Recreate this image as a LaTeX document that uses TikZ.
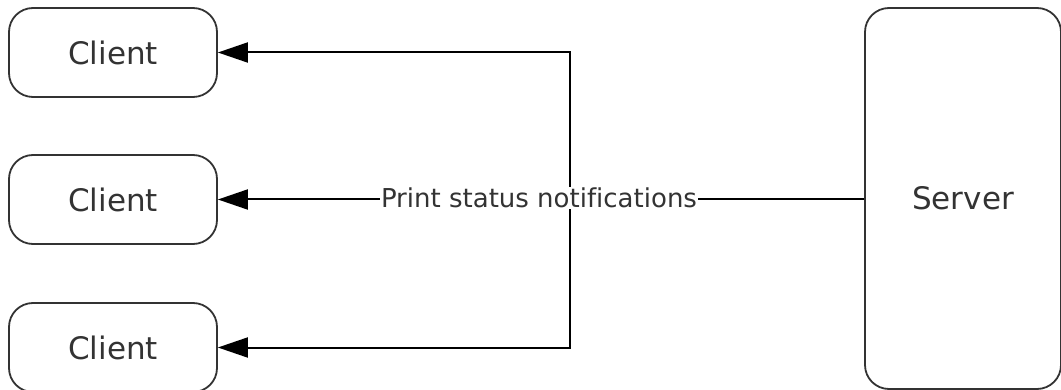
\documentclass[tikz,border=0pt]{standalone}
\usepackage{fontspec}
\setmainfont[Ligatures=NoCommon]{DejaVu Sans}
\usetikzlibrary{arrows.meta}
\definecolor{ink}{HTML}{333333}
\begin{document}
\begin{tikzpicture}[x=1pt,y=-1pt,
  box/.style={draw=ink,line width=1.8pt,rounded corners=24pt,fill=white,inner sep=0pt,text=ink,font=\fontsize{31}{35}\selectfont},
  conn/.style={draw=black,line width=2pt,line join=miter},
  tip/.tip={Triangle[length=30pt,width=20pt]},
  arr/.style={conn,-tip},
  lbl/.style={fill=white,inner sep=1pt,text=ink,font=\fontsize{26}{30}\selectfont}]
\useasboundingbox (0,0) rectangle (1061,390);
\node[box,minimum width=208pt,minimum height=89pt] (c1) at (113,52.5) {Client};
\node[box,minimum width=208pt,minimum height=89pt] (c2) at (113,199.5) {Client};
\node[box,minimum width=208pt,minimum height=89pt] (c3) at (113,347.5) {Client};
\node[box,minimum width=196pt,minimum height=381pt] (s) at (963,198.5) {Server};
\coordinate (top) at (570,52.5);
\coordinate (bot) at (570,347.5);
\coordinate (mid) at (570,199.5);
\draw[conn,tip-tip] (c1.east) -- (top) -- (bot) -- (c3.east);
\draw[arr] (s.west |- mid) -- (c2.east);
\node[lbl] (l) at (539,198) {Print status notifications};
\end{tikzpicture}
\end{document}
